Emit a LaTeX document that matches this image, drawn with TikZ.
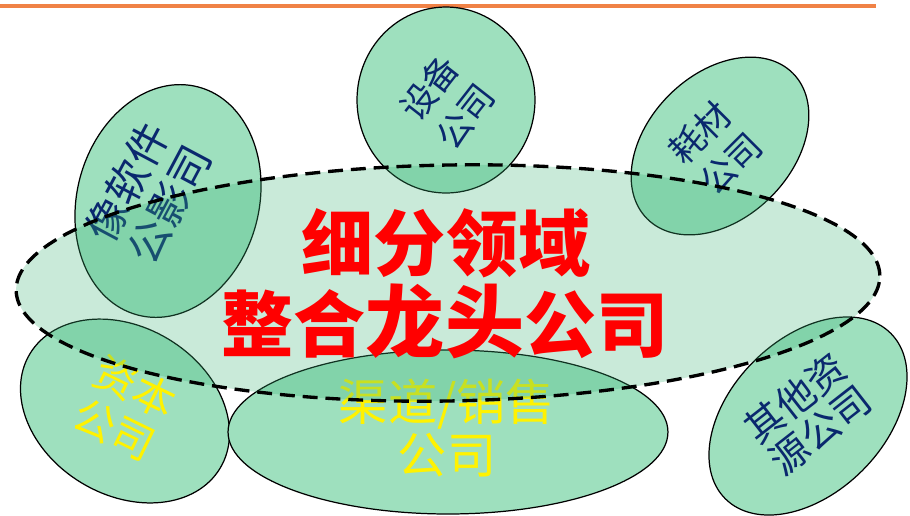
\documentclass[tikz,border=0pt]{standalone}
\usepackage{fontspec}
\newfontfamily\cjk{Noto Sans CJK SC}
\usetikzlibrary{shapes.geometric}
\definecolor{blobfill}{RGB}{158,224,190}
\definecolor{bigfill}{RGB}{60,180,120}
\definecolor{navytext}{RGB}{10,40,110}
\definecolor{topline}{RGB}{240,130,70}

\begin{document}
\begin{tikzpicture}[x=0.02cm, y=-0.02cm,
  blob/.style={ellipse, draw=black, line width=0.7pt, fill=blobfill, inner sep=0pt},
  blobtxt/.style={align=center, inner sep=0pt, text=navytext},
  redtxt/.style={inner sep=0pt, text=red}]
  \useasboundingbox (0,0) rectangle (910,515);

  \coordinate (lineL) at (0,6);
  \coordinate (lineR) at (876,6);
  \draw[topline, line width=2.3pt] (lineL) -- (lineR);

  % smaa selskaber
  \node[blob, minimum width=3.56cm, minimum height=3.72cm] (shebei) at (446,100) {};
  \node[blob, minimum width=4.12cm, minimum height=2.88cm, rotate=45] (haocai) at (720,146) {};
  \node[blob, minimum width=4.72cm, minimum height=3.64cm, rotate=75] (yingxiang) at (168,201) {};
  \node[blob, minimum width=4.44cm, minimum height=3.36cm, rotate=-31] (ziben) at (125,411) {};
  \node[blob, minimum width=8.8cm, minimum height=3.28cm] (qudao) at (448,432) {};
  \node[blob, minimum width=4.68cm, minimum height=3.08cm, rotate=45] (qita) at (808,416) {};

  \node[blobtxt, rotate=52, font={\cjk\fontsize{20}{26}\selectfont}] (shebeiT) at (447,102) {设备\\公司};
  \node[blobtxt, rotate=45, font={\cjk\fontsize{20}{25}\selectfont}] (haocaiT) at (715,148) {耗材\\公司};
  \node[blobtxt, rotate=62, font={\cjk\fontsize{24}{27}\selectfont}] (yingxiangT) at (148,193) {像软件\\公影司};
  \node[blobtxt, rotate=-26, text=yellow, font={\cjk\fontsize{24}{27}\selectfont}] (zibenT) at (125,408) {资本\\公司};
  \node[blobtxt, rotate=38, font={\cjk\fontsize{22}{23}\selectfont}] (qitaT) at (808,414) {其他资\\源公司};
  \node[blobtxt, text=yellow, font={\cjk\fontsize{28}{30}\selectfont}] (qudaoT) at (447,428) {渠道/销售\\公司};

  % stor ellipse
  \node[ellipse, draw=black, line width=1.9pt, dash pattern=on 8.5pt off 4.5pt,
    fill=bigfill, fill opacity=0.28, inner sep=0pt,
    minimum width=17.28cm, minimum height=4.72cm, rotate=1] (lingyu) at (448,283) {};

  \node[redtxt, font={\cjk\bfseries\fontsize{41}{44}\selectfont}] (xifen) at (446,243) {细分领域};
  \node[redtxt, font={\cjk\bfseries\fontsize{41}{44}\selectfont}] (zhenghe) at (445,321)
    {整合{\fontsize{45}{48}\selectfont 龙头}公司};
\end{tikzpicture}
\end{document}
